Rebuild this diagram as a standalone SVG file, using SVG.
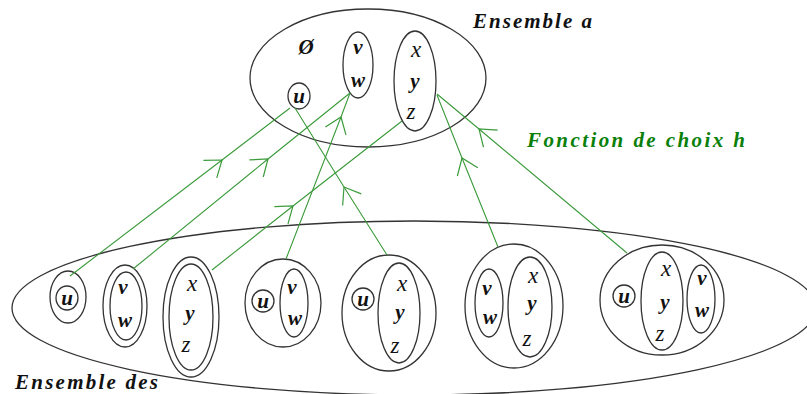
<svg xmlns="http://www.w3.org/2000/svg" width="807" height="394" viewBox="0 0 807 394">
  <style>
    .set { fill: none; stroke: #333; stroke-width: 1.3; }
    .el { font-family: "Liberation Serif", "DejaVu Serif", serif; font-style: italic; font-weight: bold; font-size: 21px; fill: #111; text-anchor: middle; }
    .lt { font-weight: normal; font-size: 23px; }
    .title { font-family: "Liberation Serif", "DejaVu Serif", serif; font-style: italic; font-weight: bold; font-size: 21px; fill: #111; }
    .fn { fill: #0a7f0a; }
    .map { fill: none; stroke: #3a9a3a; stroke-width: 1.1; marker-mid: url(#chevron); }
  </style>
  <defs>
    <marker id="chevron" markerUnits="userSpaceOnUse" markerWidth="1" markerHeight="1" refX="0" refY="0" orient="auto" overflow="visible">
      <path d="M-15,-11 L0,0 L-15,11" fill="none" stroke="#3a9a3a" stroke-width="1.2"/>
    </marker>
  </defs>

  <rect width="807" height="394" fill="#fff"/>

  <!-- the set a -->
  <g id="ensemble-a">
    <ellipse class="set" cx="368" cy="78" rx="118" ry="69"/>
    <text class="el" x="306" y="54" font-weight="normal">Ø</text>
    <g id="a-u">
      <ellipse class="set" cx="299" cy="96" rx="11" ry="13"/>
      <text class="el" x="299" y="103">u</text>
    </g>
    <g id="a-vw">
      <ellipse class="set" cx="358" cy="65" rx="15" ry="33"/>
      <text class="el" x="358" y="54">v</text>
      <text class="el" x="358" y="87">w</text>
    </g>
    <g id="a-xyz">
      <ellipse class="set" cx="415" cy="81" rx="21" ry="50"/>
      <text class="el lt" x="416" y="57">x</text>
      <text class="el" x="415" y="88">y</text>
      <text class="el lt" x="411" y="119">z</text>
    </g>
  </g>
  <text class="title" x="473" y="28" textLength="119">Ensemble a</text>

  <!-- the set of nonempty subsets -->
  <g id="ensemble-des">
    <ellipse class="set" cx="414" cy="308" rx="402" ry="87"/>

    <g id="s-u">
      <ellipse class="set" cx="68" cy="297" rx="18" ry="26"/>
      <ellipse class="set" cx="67" cy="298" rx="11" ry="12"/>
      <text class="el" x="67" y="305">u</text>
    </g>

    <g id="s-vw">
      <ellipse class="set" cx="125" cy="306" rx="22" ry="41"/>
      <ellipse class="set" cx="126" cy="306" rx="16" ry="34"/>
      <text class="el" x="123" y="294">v</text>
      <text class="el" x="125" y="327">w</text>
    </g>

    <g id="s-xyz">
      <ellipse class="set" cx="191" cy="317" rx="28" ry="60"/>
      <ellipse class="set" cx="191" cy="317" rx="22" ry="53"/>
      <text class="el lt" x="192" y="291">x</text>
      <text class="el" x="190" y="320">y</text>
      <text class="el lt" x="186" y="352">z</text>
    </g>

    <g id="s-u-vw">
      <ellipse class="set" cx="283" cy="303" rx="38" ry="44"/>
      <ellipse class="set" cx="263" cy="301" rx="11" ry="11"/>
      <text class="el" x="263" y="308">u</text>
      <ellipse class="set" cx="294" cy="303" rx="14" ry="34"/>
      <text class="el" x="292" y="294">v</text>
      <text class="el" x="295" y="325">w</text>
    </g>

    <g id="s-u-xyz">
      <ellipse class="set" cx="389" cy="313" rx="47" ry="58"/>
      <ellipse class="set" cx="363" cy="299" rx="11" ry="11"/>
      <text class="el" x="363" y="306">u</text>
      <ellipse class="set" cx="399" cy="313" rx="21" ry="50"/>
      <text class="el lt" x="402" y="291">x</text>
      <text class="el" x="400" y="319">y</text>
      <text class="el lt" x="395" y="353">z</text>
    </g>

    <g id="s-vw-xyz">
      <ellipse class="set" cx="514" cy="306" rx="49" ry="62"/>
      <ellipse class="set" cx="489" cy="303" rx="14" ry="34"/>
      <text class="el" x="487" y="295">v</text>
      <text class="el" x="490" y="324">w</text>
      <ellipse class="set" cx="530" cy="307" rx="22" ry="50"/>
      <text class="el lt" x="533" y="283">x</text>
      <text class="el" x="532" y="310">y</text>
      <text class="el lt" x="527" y="346">z</text>
    </g>

    <g id="s-u-xyz-vw">
      <ellipse class="set" cx="662" cy="300" rx="62" ry="55"/>
      <ellipse class="set" cx="624" cy="296" rx="11" ry="11"/>
      <text class="el" x="624" y="303">u</text>
      <ellipse class="set" cx="662" cy="301" rx="21" ry="49"/>
      <text class="el lt" x="666" y="276">x</text>
      <text class="el" x="665" y="309">y</text>
      <text class="el lt" x="660" y="341">z</text>
      <ellipse class="set" cx="701" cy="299" rx="14" ry="34"/>
      <text class="el" x="702" y="285">v</text>
      <text class="el" x="702" y="317">w</text>
    </g>
  </g>
  <text class="title" x="15" y="389" textLength="143">Ensemble des</text>

  <!-- choice function h: each subset points to its chosen element -->
  <g id="connectors">
    <polyline class="map" points="70,276 222,160 290,108"/>
    <polyline class="map" points="133,269 268,159 350,93"/>
    <polyline class="map" points="212,270 293,206 402,121"/>
    <polyline class="map" points="286,259 341,117 350,93"/>
    <polyline class="map" points="387,255 344,187 295,108"/>
    <polyline class="map" points="498,247 462,158 437,95"/>
    <polyline class="map" points="627,253 479,129 437,94"/>
  </g>
  <text class="title fn" x="527" y="147" textLength="218">Fonction de choix h</text>
</svg>
